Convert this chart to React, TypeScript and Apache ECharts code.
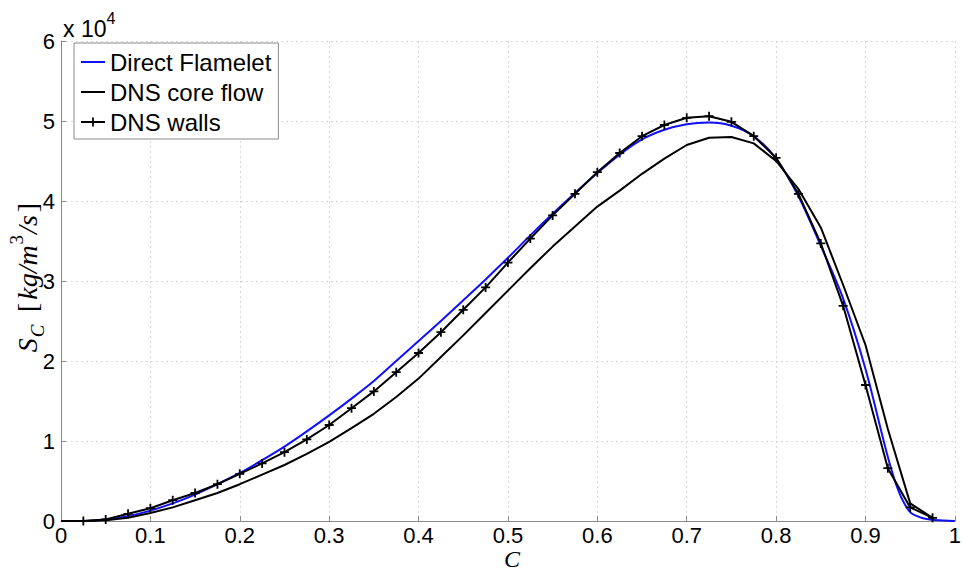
import React, { useEffect, useRef } from "react";
import * as echarts from "echarts";

const xTicks = [0, 0.1, 0.2, 0.3, 0.4, 0.5, 0.6, 0.7, 0.8, 0.9, 1];
const yTicks = [0, 1, 2, 3, 4, 5, 6];

const flameletC = [0, 0.025, 0.05, 0.075, 0.1, 0.125, 0.15, 0.175, 0.2, 0.225, 0.25, 0.275, 0.3, 0.325, 0.35, 0.375, 0.4, 0.425, 0.45, 0.475, 0.5, 0.525, 0.55, 0.575, 0.6, 0.625, 0.65, 0.675, 0.7, 0.725, 0.75, 0.775, 0.8, 0.825, 0.85, 0.875, 0.9, 0.925, 0.9375, 0.95, 0.9625, 0.975, 0.9875, 1];
const flameletS = [0, 0.0, 0.02, 0.06, 0.13, 0.22, 0.33, 0.46, 0.6, 0.76, 0.93, 1.12, 1.32, 1.53, 1.75, 2.0, 2.25, 2.5, 2.76, 3.02, 3.29, 3.57, 3.84, 4.1, 4.35, 4.58, 4.77, 4.89, 4.96, 4.98, 4.94, 4.81, 4.53, 4.06, 3.44, 2.78, 1.9, 0.8, 0.36, 0.11, 0.04, 0.015, 0.005, 0];

const coreC = [0, 0.025, 0.05, 0.075, 0.1, 0.125, 0.15, 0.175, 0.2, 0.225, 0.25, 0.275, 0.3, 0.325, 0.35, 0.375, 0.4, 0.425, 0.45, 0.475, 0.5, 0.525, 0.55, 0.575, 0.6, 0.625, 0.65, 0.675, 0.7, 0.725, 0.75, 0.775, 0.8, 0.825, 0.85, 0.875, 0.9, 0.925, 0.95, 0.975];
const coreS = [0, 0.0, 0.01, 0.04, 0.1, 0.17, 0.26, 0.35, 0.46, 0.58, 0.7, 0.84, 0.99, 1.16, 1.34, 1.55, 1.78, 2.05, 2.32, 2.6, 2.88, 3.16, 3.43, 3.68, 3.93, 4.13, 4.34, 4.53, 4.7, 4.79, 4.8, 4.72, 4.5, 4.15, 3.67, 2.95, 2.2, 1.15, 0.22, 0.04];

const wallsC = [0.025, 0.05, 0.075, 0.1, 0.125, 0.15, 0.175, 0.2, 0.225, 0.25, 0.275, 0.3, 0.325, 0.35, 0.375, 0.4, 0.425, 0.45, 0.475, 0.5, 0.525, 0.55, 0.575, 0.6, 0.625, 0.65, 0.675, 0.7, 0.725, 0.75, 0.775, 0.8, 0.825, 0.85, 0.875, 0.9, 0.925, 0.95, 0.975];
const wallsS = [0.0, 0.02, 0.09, 0.16, 0.26, 0.35, 0.46, 0.59, 0.72, 0.86, 1.02, 1.2, 1.41, 1.62, 1.86, 2.1, 2.36, 2.64, 2.92, 3.23, 3.53, 3.82, 4.09, 4.36, 4.6, 4.81, 4.95, 5.04, 5.06, 4.99, 4.81, 4.54, 4.09, 3.47, 2.69, 1.7, 0.66, 0.17, 0.04];

const seriesNames = ["Direct Flamelet", "DNS core flow", "DNS walls"];

const FONT = "'Liberation Sans', Arial, Helvetica, sans-serif";
const SERIF = "'Liberation Serif', 'DejaVu Serif', serif";
const PLUS =
  "path://M-0.1,-0.5 L0.1,-0.5 L0.1,-0.1 L0.5,-0.1 L0.5,0.1 L0.1,0.1 L0.1,0.5 L-0.1,0.5 L-0.1,0.1 L-0.5,0.1 L-0.5,-0.1 L-0.1,-0.1 Z";

const zip = (xs: number[], ys: number[]) => xs.map((x, i) => [x, ys[i]]);

export default function App() {
  const ref = useRef<HTMLDivElement>(null);
  useEffect(() => {
    if (!ref.current) return;
    const chart = echarts.init(ref.current, undefined, { renderer: "svg" });
    const fmtX = (v: number) => String(parseFloat(v.toFixed(1)));
    const hidden = { color: "transparent", borderColor: "transparent", opacity: 0 };
    chart.setOption({
      animation: false,
      backgroundColor: "#ffffff",
      grid: { left: 61, right: 3, top: 41, bottom: 51 },
      xAxis: {
        type: "value",
        min: xTicks[0],
        max: xTicks[xTicks.length - 1],
        interval: 0.1,
        axisLine: { show: true, lineStyle: { color: "#8a8a8a", width: 1 } },
        axisTick: { show: true, inside: true, length: 5, lineStyle: { color: "#8a8a8a" } },
        axisLabel: { color: "#000", fontFamily: FONT, fontSize: 22, margin: 4, lineHeight: 20, formatter: fmtX },
        splitLine: { show: true, lineStyle: { color: "#d8d8d8", type: [2, 3], width: 1 } },
      },
      yAxis: {
        type: "value",
        min: yTicks[0],
        max: yTicks[yTicks.length - 1],
        interval: 1,
        axisLine: { show: true, lineStyle: { color: "#8a8a8a", width: 1 } },
        axisTick: { show: true, inside: true, length: 5, lineStyle: { color: "#8a8a8a" } },
        axisLabel: { color: "#000", fontFamily: FONT, fontSize: 22, margin: 6 },
        splitLine: { show: true, lineStyle: { color: "#d8d8d8", type: [2, 3], width: 1 } },
      },
      legend: {
        show: true,
        orient: "vertical",
        left: 74,
        top: 43,
        padding: [7, 7, 5, 6],
        itemGap: 6,
        itemWidth: 24,
        itemHeight: 11,
        backgroundColor: "#fff",
        borderColor: "#8a8a8a",
        borderWidth: 1,
        borderRadius: 0,
        textStyle: { color: "#000", fontFamily: FONT, fontSize: 24 },
        data: [
          { name: seriesNames[0], itemStyle: hidden },
          { name: seriesNames[1], itemStyle: hidden },
          { name: seriesNames[2] },
        ],
      },
      series: [
        {
          name: seriesNames[0],
          type: "line",
          data: zip(flameletC, flameletS),
          smooth: 0.3,
          symbol: "none",
          lineStyle: { color: "#1010ff", width: 2 },
          itemStyle: { color: "#1010ff" },
          z: 2,
        },
        {
          name: seriesNames[1],
          type: "line",
          data: zip(coreC, coreS),
          symbol: "none",
          lineStyle: { color: "#000", width: 2 },
          itemStyle: { color: "#000" },
          z: 3,
        },
        {
          name: seriesNames[2],
          type: "line",
          data: zip(wallsC, wallsS),
          symbol: PLUS,
          symbolSize: 9,
          showSymbol: true,
          lineStyle: { color: "#000", width: 2 },
          itemStyle: { color: "#000" },
          z: 4,
        },
      ],
      graphic: [
        {
          type: "text",
          left: 63,
          top: 10,
          style: {
            text: "{a|x 10}{s|4}",
            rich: {
              a: { fontFamily: FONT, fontSize: 23, fill: "#000", verticalAlign: "bottom", lineHeight: 30 },
              s: { fontFamily: FONT, fontSize: 16, fill: "#000", verticalAlign: "top", lineHeight: 30 },
            },
          },
        },
        {
          type: "text",
          x: 27,
          y: 277,
          rotation: Math.PI / 2,
          style: {
            text: "{i|S}{sb|C} {n| [}{i|kg/m}{sp|3}{i|/s}{n|]}",
            align: "center",
            verticalAlign: "middle",
            rich: {
              i: { fontFamily: SERIF, fontStyle: "italic", fontSize: 28, fill: "#000", lineHeight: 40, verticalAlign: "middle", padding: [0, 1, 0, 1] },
              n: { fontFamily: SERIF, fontSize: 28, fill: "#000", lineHeight: 40, verticalAlign: "middle", padding: [0, 2, 0, 2] },
              sb: { fontFamily: SERIF, fontStyle: "italic", fontSize: 19, fill: "#000", lineHeight: 40, verticalAlign: "bottom" },
              sp: { fontFamily: SERIF, fontSize: 19, fill: "#000", lineHeight: 40, verticalAlign: "top" },
            },
          },
        },
        {
          type: "text",
          x: 512,
          y: 559,
          style: {
            text: "C",
            align: "center",
            verticalAlign: "middle",
            fontFamily: SERIF,
            fontStyle: "italic",
            fontSize: 24,
            lineHeight: 22,
            fill: "#000",
          },
        },
      ],
    });
    return () => chart.dispose();
  }, []);
  return <div ref={ref} style={{ width: 964, height: 572, position: "absolute", left: 0, top: 0 }} />;
}
